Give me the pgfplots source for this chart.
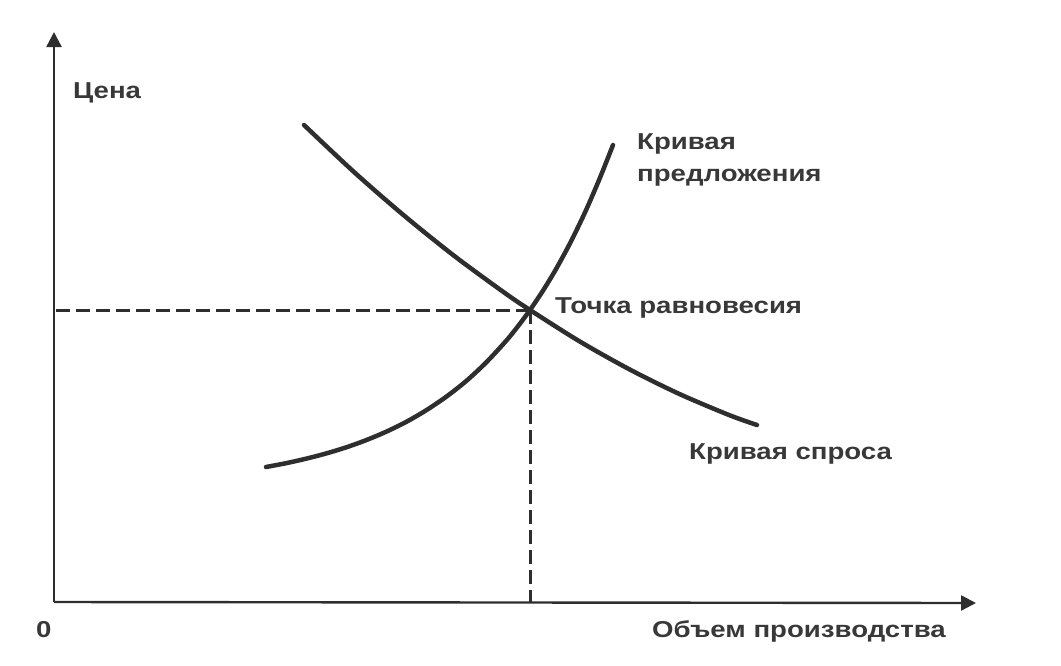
\documentclass[border=0pt]{standalone}
\usepackage{pgfplots}
\pgfplotsset{compat=1.18}
\usepackage{graphicx}
\usepackage{fontspec}
\setmainfont{Liberation Sans}
\usetikzlibrary{arrows.meta}
\definecolor{ink}{HTML}{2E2E2E}
\definecolor{txt}{HTML}{383838}
\newcommand{\lbl}[1]{\scalebox{1.2}[1.0]{\fontsize{23}{27}\selectfont\bfseries #1}}
\begin{document}
\begin{tikzpicture}
\begin{axis}[
  width=1061pt, height=665pt, scale only axis,
  xmin=0, xmax=1061, ymin=0, ymax=665, y dir=reverse,
  hide axis, clip=false]
\path (axis cs:0,0) rectangle (axis cs:1061,665);
% axes
\addplot[ink, line width=2.4pt, -{Triangle[width=15pt,length=15pt]}] coordinates {(54,602) (54,32)};
\addplot[ink, line width=2.4pt, -{Triangle[width=15pt,length=15pt]}] coordinates {(54,602) (976,603)};
% dashed guides
\addplot[ink, line width=3pt, dash pattern=on 14pt off 6pt] coordinates {(56,310) (530,310)};
\addplot[ink, line width=3pt, dash pattern=on 14pt off 6pt] coordinates {(530,310) (530,602)};
% demand
\addplot[ink, line width=4.5pt, smooth, line cap=round] coordinates {
(304,125) (354,172) (404,215.5) (454,255.7) (504,292.4) (530,310) (579,341) (629,369.1) (679,393.8) (729,415) (757,425)};
% supply
\addplot[ink, line width=4.5pt, smooth, line cap=round] coordinates {
(266,467) (286,463.2) (306,458.7) (326,453.5) (346,447.4) (366,440.2) (386,431.8) (406,422.0) (426,410.4) (446,396.9) (466,381.2) (486,362.6) (506,341.0) (518,326.2) (530,310) (543,290.6) (556,269.1) (571,241.4) (586,210.2) (600,177.7) (613,145)};
% labels
\node[txt, anchor=base west, inner sep=0pt] at (axis cs:73,98) {\lbl{Цена}};
\node[txt, anchor=base west, inner sep=0pt] at (axis cs:637,149) {\lbl{Кривая}};
\node[txt, anchor=base west, inner sep=0pt] at (axis cs:637,181) {\lbl{предложения}};
\node[txt, anchor=base west, inner sep=0pt] at (axis cs:555,313) {\lbl{Точка равновесия}};
\node[txt, anchor=base west, inner sep=0pt] at (axis cs:689,459) {\lbl{Кривая спроса}};
\node[txt, anchor=base west, inner sep=0pt] at (axis cs:652,637) {\lbl{Объем производства}};
\node[txt, anchor=base west, inner sep=0pt] at (axis cs:36,637) {\lbl{0}};
\end{axis}
\end{tikzpicture}
\end{document}
